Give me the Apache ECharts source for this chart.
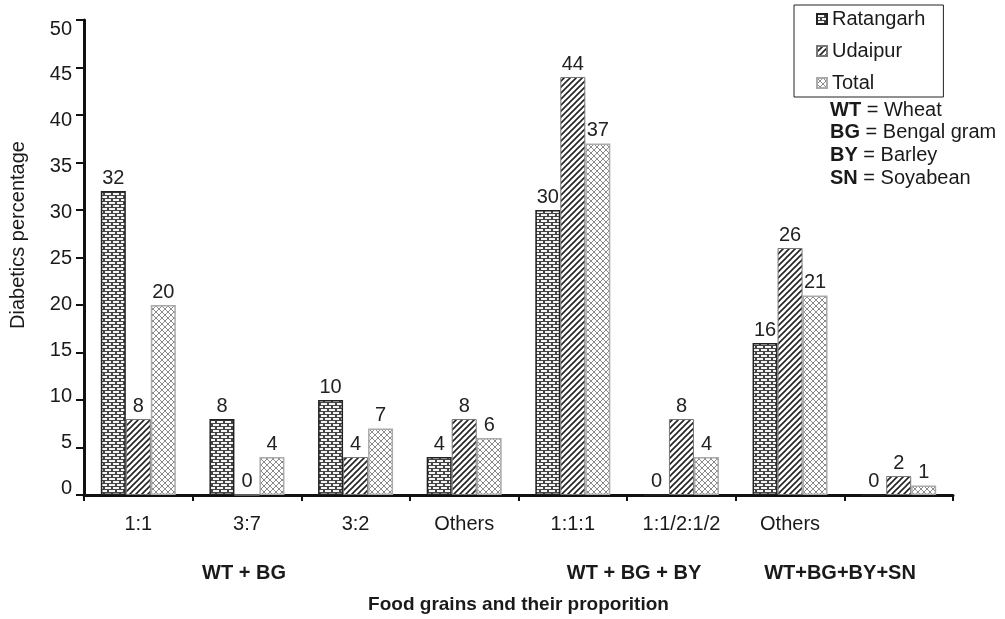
<!DOCTYPE html>
<html>
<head>
<meta charset="utf-8">
<script src="https://cdn.jsdelivr.net/npm/echarts@6/dist/echarts.min.js"></script>
<style>html,body{margin:0;padding:0;background:#fff;}#c{width:1005px;height:619px;}</style>
</head>
<body>
<div id="c"></div>
<script>
const categories = ['1:1', '3:7', '3:2', 'Others', '1:1:1', '1:1/2:1/2', 'Others', ''];
const ratangarh = [32, 8, 10, 4, 30, 0, 16, 0];
const udaipur = [8, 0, 4, 8, 44, 8, 26, 2];
const total = [20, 4, 7, 6, 37, 4, 21, 1];
const seriesNames = ['Ratangarh', 'Udaipur', 'Total'];
const groupLabels = ['WT + BG', 'WT + BG + BY', 'WT+BG+BY+SN'];
const abbreviations = [['WT', 'Wheat'], ['BG', 'Bengal gram'], ['BY', 'Barley'], ['SN', 'Soyabean']];
const yAxisName = 'Diabetics percentage';
const xAxisName = 'Food grains and their proporition';

function makeTile(w, h, draw) {
  const c = document.createElement('canvas');
  c.width = w; c.height = h;
  const ctx = c.getContext('2d');
  draw(ctx, w, h);
  return { image: c, repeat: 'repeat' };
}
const brick = makeTile(8, 6, (ctx) => {
  ctx.fillStyle = '#444444'; ctx.fillRect(0, 0, 8, 6);
  ctx.fillStyle = '#f4f4f4';
  ctx.fillRect(1, 1, 6, 2);
  ctx.fillRect(5, 4, 3, 2); ctx.fillRect(0, 4, 3, 2);
});
const diag = makeTile(6, 6, (ctx) => {
  ctx.fillStyle = '#ffffff'; ctx.fillRect(0, 0, 6, 6);
  ctx.strokeStyle = '#222222'; ctx.lineWidth = 1.6;
  ctx.beginPath();
  ctx.moveTo(-1, 7); ctx.lineTo(7, -1);
  ctx.moveTo(-1, 1); ctx.lineTo(1, -1);
  ctx.moveTo(5, 7); ctx.lineTo(7, 5);
  ctx.stroke();
});
const cross = makeTile(6, 6, (ctx) => {
  ctx.fillStyle = '#ffffff'; ctx.fillRect(0, 0, 6, 6);
  ctx.strokeStyle = '#8a8a8a'; ctx.lineWidth = 1;
  ctx.beginPath();
  ctx.moveTo(0, 6); ctx.lineTo(6, 0);
  ctx.moveTo(0, 0); ctx.lineTo(6, 6);
  ctx.stroke();
});

const FONT = 'Liberation Sans, Arial, sans-serif';
const labelStyle = { show: true, position: 'top', distance: 3, fontSize: 20, color: '#222', fontFamily: FONT };

function bar(name, data, color, border, bw) {
  return {
    name: name, type: 'bar', data: data, barWidth: 25, barGap: '0%',
    xAxisIndex: 0, yAxisIndex: 0,
    itemStyle: { color: color, borderColor: border, borderWidth: bw },
    label: labelStyle
  };
}

const chart = echarts.init(document.getElementById('c'), null, { renderer: 'canvas' });
const graphics = [];
const groupX = [244, 634, 840];
groupLabels.forEach((t, i) => graphics.push({
  type: 'text', x: groupX[i], y: 573, silent: true,
  style: { text: t, font: 'bold 20px ' + FONT, fill: '#1a1a1a', textAlign: 'center', textVerticalAlign: 'middle' }
}));
abbreviations.forEach((a, i) => graphics.push({
  type: 'text', x: 830, y: 110 + i * 22.7, silent: true,
  style: {
    text: '{b|' + a[0] + '} = ' + a[1], fontSize: 20, fontFamily: FONT, fill: '#1a1a1a',
    textVerticalAlign: 'middle',
    rich: { b: { fontWeight: 'bold', fontSize: 20, fontFamily: FONT, fill: '#1a1a1a' } }
  }
}));
graphics.push({
  type: 'text', x: 18, y: 235, rotation: Math.PI / 2, silent: true,
  style: { text: yAxisName, fontSize: 20, fontFamily: FONT, fill: '#1a1a1a', textAlign: 'center', textVerticalAlign: 'middle' }
});

chart.setOption({
  animation: false,
  backgroundColor: '#ffffff',
  grid: [
    { left: 84, right: 52, top: 20, bottom: 118 },
    { left: 84, right: 52, top: 29, bottom: 131 }
  ],
  legend: {
    data: seriesNames, orient: 'vertical', left: 794, top: 5,
    icon: 'rect', itemWidth: 10, itemHeight: 10, itemGap: 12,
    borderColor: '#222', borderWidth: 1, padding: [4, 18, 4, 22],
    textStyle: { fontSize: 20, fontFamily: FONT, color: '#1a1a1a', lineHeight: 20 }
  },
  xAxis: [
    {
      type: 'category', data: categories, gridIndex: 0,
      axisLine: { lineStyle: { color: '#111', width: 3 } },
      axisTick: { show: true, length: 6, lineStyle: { color: '#111', width: 2 } },
      axisLabel: { fontSize: 20, fontFamily: FONT, color: '#1a1a1a', margin: 19 },
      name: xAxisName, nameLocation: 'middle', nameGap: 100,
      nameTextStyle: { fontSize: 19, fontWeight: 'bold', fontFamily: FONT, color: '#1a1a1a' }
    },
    { type: 'category', data: categories, gridIndex: 1, show: false }
  ],
  yAxis: [
    {
      type: 'value', min: 0, max: 50, interval: 5, gridIndex: 0,
      axisLine: { show: true, lineStyle: { color: '#111', width: 3 } },
      axisTick: { show: true, length: 8, lineStyle: { color: '#111', width: 2 } },
      axisLabel: { show: false },
      splitLine: { show: false }
    },
    {
      type: 'value', min: 0, max: 50, interval: 5, gridIndex: 1,
      axisLine: { show: false }, axisTick: { show: false }, splitLine: { show: false },
      axisLabel: { fontSize: 20, fontFamily: FONT, color: '#1a1a1a', margin: 12 }
    }
  ],
  series: [
    bar(seriesNames[0], ratangarh, brick, '#222', 1.5),
    bar(seriesNames[1], udaipur, diag, '#777', 1),
    bar(seriesNames[2], total, cross, '#aaa', 1.5)
  ],
  graphic: graphics
});
</script>
</body>
</html>
